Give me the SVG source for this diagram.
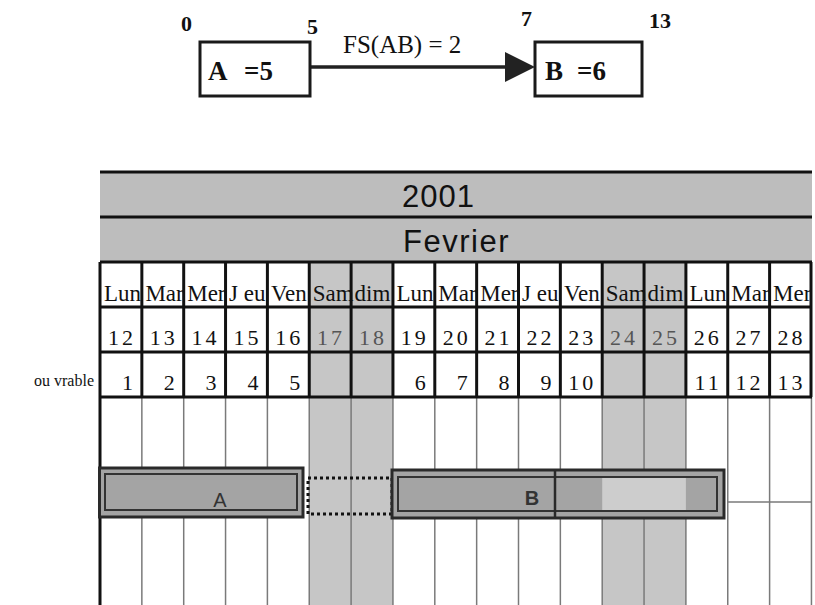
<svg xmlns="http://www.w3.org/2000/svg" width="815" height="605" viewBox="0 0 815 605">
<style>
.lbl{font-family:"Liberation Serif","Times New Roman",serif;font-weight:bold;font-size:22px;fill:#111}
.node{fill:#fff;stroke:#1a1a1a;stroke-width:3}
.ntxt{font-family:"Liberation Serif","Times New Roman",serif;font-weight:bold;font-size:27px;fill:#111}
.conn{stroke:#222;stroke-width:3.5;fill:none}
.ctxt{font-family:"Liberation Serif","Times New Roman",serif;font-size:25px;fill:#111}
.band{fill:#bdbdbd}
.hdr{font-family:"Liberation Sans",Arial,sans-serif;font-size:31px;fill:#111}
.wk{fill:#c6c6c6}
.thick{stroke:#111;stroke-width:3}
.thin{stroke:#7a7a7a;stroke-width:1.5}
.day{font-family:"Liberation Serif","Times New Roman",serif;font-size:23px;fill:#111}
.num{font-family:"Liberation Serif","Times New Roman",serif;font-size:22px;fill:#111;text-anchor:end;letter-spacing:3px}
.numw{fill:#555}
.side{font-family:"Liberation Serif","Times New Roman",serif;font-size:16px;fill:#111;text-anchor:end}
.bar{fill:#a4a4a4;stroke:#2a2a2a;stroke-width:3}
.barin{fill:none;stroke:#333;stroke-width:2}
.btxt{font-family:"Liberation Sans",Arial,sans-serif;font-size:20px;fill:#333;text-anchor:middle}
</style>

<!-- top precedence diagram -->
<text class="lbl" x="181" y="31">0</text>
<text class="lbl" x="307" y="34">5</text>
<text class="lbl" x="521" y="26">7</text>
<text class="lbl" x="649" y="28">13</text>

<g id="connectors">
  <line class="conn" x1="311" y1="67" x2="506" y2="67"/>
  <polygon points="505,52 535,67 505,82" fill="#222"/>
  <text class="ctxt" x="343" y="53">FS(AB) = 2</text>
</g>

<g id="node-A">
  <rect class="node" x="200" y="42" width="110" height="54"/>
  <text class="ntxt" y="80"><tspan x="208">A </tspan><tspan x="244">=5</tspan></text>
</g>
<g id="node-B">
  <rect class="node" x="535" y="42" width="107" height="54"/>
  <text class="ntxt" y="80"><tspan x="545">B </tspan><tspan x="577">=6</tspan></text>
</g>

<!-- calendar -->
<g id="calendar">
  <rect class="band" x="100" y="172" width="712" height="90"/>
  <line class="thick" x1="100" y1="172" x2="812" y2="172"/>
  <line class="thick" x1="100" y1="217" x2="812" y2="217"/>
  <text class="hdr" x="402" y="207" letter-spacing="1">2001</text>
  <text class="hdr" x="403" y="252" letter-spacing="1.5">Fevrier</text>

  <rect class="wk" x="309.25" y="262" width="83.7" height="343"/>
  <rect class="wk" x="602.2" y="262" width="83.7" height="343"/>

  <!-- day names -->
  <text class="day" y="301">
    <tspan x="104">Lun</tspan><tspan x="145.4">Mar</tspan><tspan x="187.2">Mer</tspan><tspan x="229.1">J eu</tspan><tspan x="270.9">Ven</tspan><tspan x="312.8">Sam</tspan><tspan x="354.6">dim</tspan><tspan x="396.5">Lun</tspan><tspan x="438.3">Mar</tspan><tspan x="480.2">Mer</tspan><tspan x="522">J eu</tspan><tspan x="563.9">Ven</tspan><tspan x="605.7">Sam</tspan><tspan x="647.6">dim</tspan><tspan x="689.4">Lun</tspan><tspan x="731.3">Mar</tspan><tspan x="773.1">Mer</tspan>
  </text>

  <!-- dates -->
  <g class="num">
    <text x="135.9" y="345">12</text>
    <text x="177.7" y="345">13</text>
    <text x="219.6" y="345">14</text>
    <text x="261.4" y="345">15</text>
    <text x="303.2" y="345">16</text>
    <text x="345.1" y="345" class="num numw">17</text>
    <text x="387" y="345" class="num numw">18</text>
    <text x="428.8" y="345">19</text>
    <text x="470.7" y="345">20</text>
    <text x="512.5" y="345">21</text>
    <text x="554.4" y="345">22</text>
    <text x="596.2" y="345">23</text>
    <text x="638.1" y="345" class="num numw">24</text>
    <text x="679.9" y="345" class="num numw">25</text>
    <text x="721.8" y="345">26</text>
    <text x="763.6" y="345">27</text>
    <text x="805.5" y="345">28</text>
  </g>

  <text class="side" x="94" y="386">ou vrable</text>
  <g class="num">
    <text x="135.9" y="390">1</text>
    <text x="177.7" y="390">2</text>
    <text x="219.6" y="390">3</text>
    <text x="261.4" y="390">4</text>
    <text x="303.2" y="390">5</text>
    <text x="428.8" y="390">6</text>
    <text x="470.7" y="390">7</text>
    <text x="512.5" y="390">8</text>
    <text x="554.4" y="390">9</text>
    <text x="596.2" y="390">10</text>
    <text x="721.8" y="390">11</text>
    <text x="763.6" y="390">12</text>
    <text x="805.5" y="390">13</text>
  </g>

  <!-- thin lower grid -->
  <g class="thin">
    <line x1="141.85" y1="397" x2="141.85" y2="605"/>
    <line x1="183.7" y1="397" x2="183.7" y2="605"/>
    <line x1="225.55" y1="397" x2="225.55" y2="605"/>
    <line x1="267.4" y1="397" x2="267.4" y2="605"/>
    <line x1="309.25" y1="397" x2="309.25" y2="605"/>
    <line x1="351.1" y1="397" x2="351.1" y2="605"/>
    <line x1="392.95" y1="397" x2="392.95" y2="605"/>
    <line x1="434.8" y1="397" x2="434.8" y2="605"/>
    <line x1="476.65" y1="397" x2="476.65" y2="605"/>
    <line x1="518.5" y1="397" x2="518.5" y2="605"/>
    <line x1="560.35" y1="397" x2="560.35" y2="605"/>
    <line x1="602.2" y1="397" x2="602.2" y2="605"/>
    <line x1="644.05" y1="397" x2="644.05" y2="605"/>
    <line x1="685.9" y1="397" x2="685.9" y2="605"/>
    <line x1="727.75" y1="397" x2="727.75" y2="605"/>
    <line x1="769.6" y1="397" x2="769.6" y2="605"/>
    <line x1="811.45" y1="397" x2="811.45" y2="605"/>
    <line x1="727.75" y1="502" x2="812" y2="502"/>
  </g>

  <!-- thick upper grid -->
  <g class="thick">
    <line x1="100" y1="262" x2="812" y2="262"/>
    <line x1="100" y1="307" x2="812" y2="307"/>
    <line x1="100" y1="352" x2="812" y2="352"/>
    <line x1="100" y1="397" x2="812" y2="397"/>
    <line x1="100" y1="262" x2="100" y2="605"/>
    <line x1="141.85" y1="262" x2="141.85" y2="397"/>
    <line x1="183.7" y1="262" x2="183.7" y2="397"/>
    <line x1="225.55" y1="262" x2="225.55" y2="397"/>
    <line x1="267.4" y1="262" x2="267.4" y2="397"/>
    <line x1="309.25" y1="262" x2="309.25" y2="397"/>
    <line x1="351.1" y1="262" x2="351.1" y2="397"/>
    <line x1="392.95" y1="262" x2="392.95" y2="397"/>
    <line x1="434.8" y1="262" x2="434.8" y2="397"/>
    <line x1="476.65" y1="262" x2="476.65" y2="397"/>
    <line x1="518.5" y1="262" x2="518.5" y2="397"/>
    <line x1="560.35" y1="262" x2="560.35" y2="397"/>
    <line x1="602.2" y1="262" x2="602.2" y2="397"/>
    <line x1="644.05" y1="262" x2="644.05" y2="397"/>
    <line x1="685.9" y1="262" x2="685.9" y2="397"/>
    <line x1="727.75" y1="262" x2="727.75" y2="397"/>
    <line x1="769.6" y1="262" x2="769.6" y2="397"/>
    <line x1="811" y1="262" x2="811" y2="397"/>
  </g>
</g>

<!-- gantt bars -->
<g id="bar-A">
  <rect class="bar" x="99.5" y="468" width="203.5" height="49"/>
  <rect class="barin" x="105" y="474" width="192" height="36"/>
  <text class="btxt" x="220" y="507">A</text>
</g>
<g id="gap">
  <rect x="308" y="478" width="84" height="36" fill="none" stroke="#111" stroke-width="3" stroke-dasharray="3 3"/>
</g>
<g id="bar-B">
  <rect class="bar" x="392" y="470" width="332" height="48"/>
  <rect x="602.2" y="477" width="83.7" height="34" fill="#cdcdcd"/>
  <rect class="barin" x="398" y="477" width="319" height="34"/>
  <line x1="555" y1="470" x2="555" y2="518" stroke="#2a2a2a" stroke-width="2.5"/>
  <text class="btxt" x="532" y="505" font-weight="bold" fill="#222">B</text>
</g>
</svg>
